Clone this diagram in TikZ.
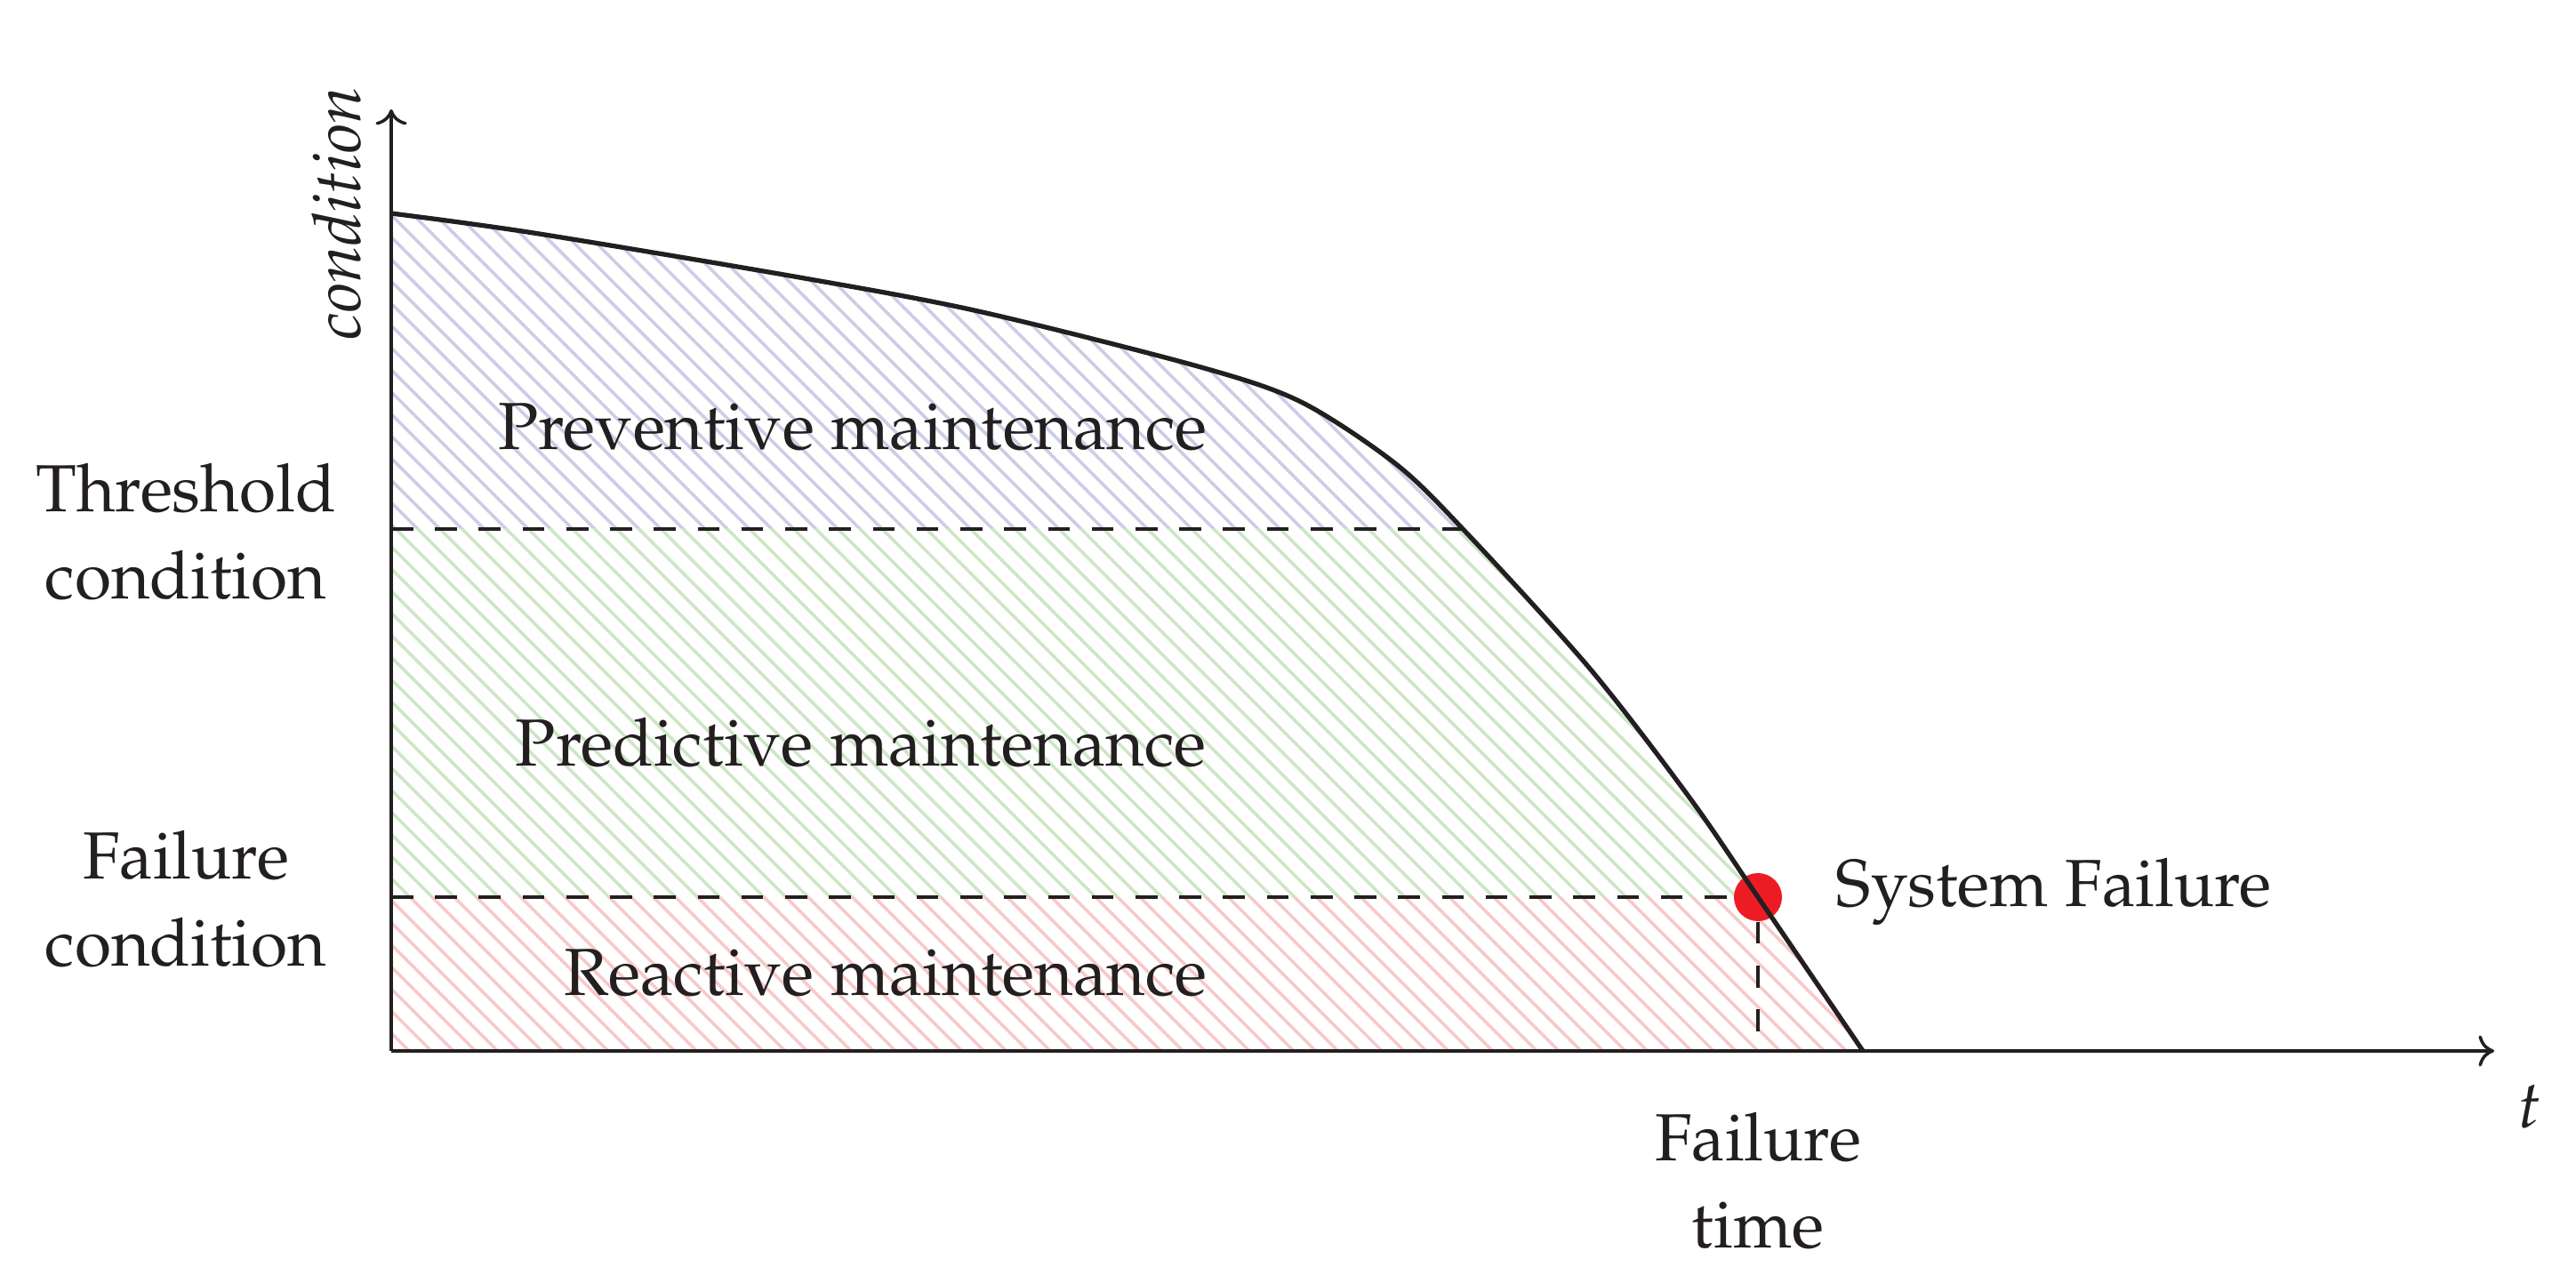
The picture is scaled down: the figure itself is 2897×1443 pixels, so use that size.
\documentclass[tikz,border=0pt]{standalone}
\usepackage[T1]{fontenc}
\usepackage{mathpazo}
\usetikzlibrary{arrows.meta,patterns.meta}
\definecolor{hblue}{RGB}{204,204,230}
\definecolor{hgreen}{RGB}{204,230,198}
\definecolor{hred}{RGB}{248,200,200}
\definecolor{dotred}{RGB}{237,28,36}
\definecolor{ink}{RGB}{35,31,32}
\tikzset{
  axis/.style={draw=ink,line width=1pt,-{To[length=5pt,width=10pt]}},
  curve/.style={draw=ink,line width=1.5pt},
  guide/.style={draw=ink,line width=1.3pt,dash pattern=on 7pt off 7pt},
  lbl/.style={font=\fontsize{21.3}{27.8}\selectfont,text=ink,inner sep=0pt},
  side/.style={lbl,align=center},
  hatchb/.style={pattern={Lines[angle=-45,distance=5pt,line width=1pt]},pattern color=hblue},
  hatchg/.style={pattern={Lines[angle=-45,distance=5pt,line width=1pt]},pattern color=hgreen},
  hatchr/.style={pattern={Lines[angle=-45,distance=5pt,line width=1pt]},pattern color=hred},
}
\newcommand{\curvepts}{(440,240) (600,262) (899,312) (1100,350) (1347,412) (1463,452) (1570,522) (1648,598) (1788,752) (1900,897) (1977,1009) (2095,1182)}
\newcommand{\areapath}{(440,1182) -- plot[smooth,tension=0.5] coordinates {\curvepts} -- cycle}
\begin{document}
\begin{tikzpicture}[x=0.01cm,y=-0.01cm]
\useasboundingbox (0,0) rectangle (2897,1443);
% hatched regions
\begin{scope}
  \clip (440,0) rectangle (2200,595);
  \path[hatchb] \areapath;
\end{scope}
\begin{scope}
  \clip (440,595) rectangle (2200,1009);
  \path[hatchg] \areapath;
\end{scope}
\begin{scope}
  \clip (440,1009) rectangle (2200,1182);
  \path[hatchr] \areapath;
\end{scope}
% coordinates
\coordinate (O) at (440,1182);
\coordinate (ytop) at (440,123);
\coordinate (xend) at (2805,1182);
\coordinate (thL) at (440,595);
\coordinate (thR) at (1646,595);
\coordinate (faL) at (440,1009);
\coordinate (ft) at (1977,1182);
\node[circle,fill=dotred,minimum size=0.54cm,inner sep=0pt] (dot) at (1977,1009) {};
% guides
\draw[guide] (thL) -- (thR);
\draw[guide] (faL) -- (dot.west);
\draw[guide] (dot.south) -- (ft);
% curve
\draw[curve] plot[smooth,tension=0.5] coordinates {\curvepts};
% axes
\draw[axis] (O) -- (ytop);
\draw[axis] (O) -- (xend);
% labels
\node[lbl,rotate=90,font=\fontsize{21.3}{27.8}\selectfont\itshape] (ylab) at (379,240) {condition};
\node[lbl] (tlab) at (2845,1245) {$t$};
\node[side] (thr) at (209,598) {Threshold\\condition};
\node[side] (fac) at (209,1011) {Failure\\condition};
\node[lbl] (prev) at (959,480) {Preventive maintenance};
\node[lbl] (pred) at (968,835) {Predictive maintenance};
\node[lbl] (reac) at (996,1094) {Reactive maintenance};
\node[lbl,anchor=west] (sys) at (2064,1003) {System Failure};
\node[side] (ftime) at (1977,1328) {Failure\\time};
\end{tikzpicture}
\end{document}
